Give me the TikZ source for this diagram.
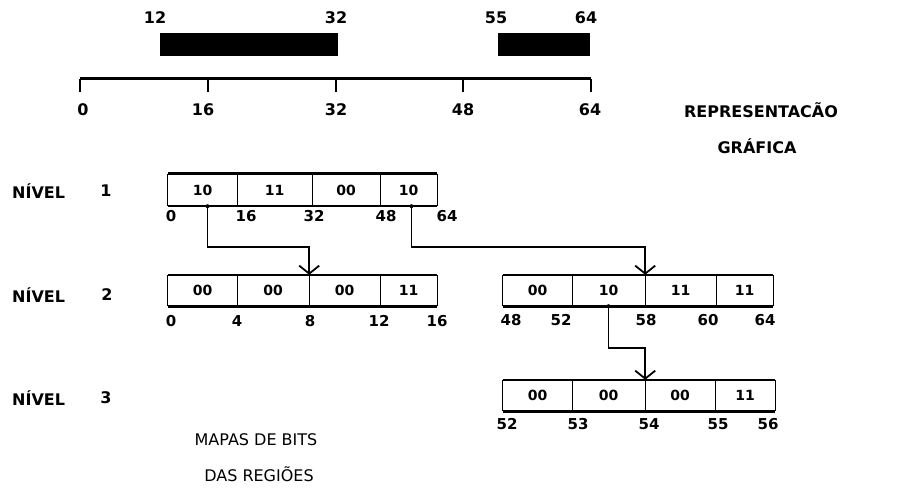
\documentclass[tikz,border=0pt]{standalone}
\usepackage{fontspec}
\setmainfont{DejaVu Sans}
\usetikzlibrary{arrows.meta}
\begin{document}
\begin{tikzpicture}[x=1pt,y=-1pt,
  lbl/.style={font=\bfseries\fontsize{16}{16}\selectfont, inner sep=0pt},
  capt/.style={font=\fontsize{16}{16}\selectfont, inner sep=0pt},
  num/.style={font=\bfseries\fontsize{15}{15}\selectfont, inner sep=0pt},
  cell/.style={font=\bfseries\fontsize{14}{14}\selectfont, inner sep=0pt},
  boxline/.style={line width=2.6pt},
  divline/.style={line width=1.2pt},
  axisline/.style={line width=3pt},
  tickline/.style={line width=1.4pt},
  conn/.style={line width=1.8pt},
  arr/.style={-{Straight Barb[length=8pt,width=20pt,line width=1.8pt]}},
  bar/.style={fill=black},
  startdot/.style={fill=black, circle, inner sep=0pt, minimum size=4pt}
]
\useasboundingbox (0,0) rectangle (897,489);

% ---------- graphical representation ----------
\node[lbl] (t12) at (155,18) {12};
\node[lbl] (t32) at (336,18) {32};
\node[lbl] (t55) at (496,18) {55};
\node[lbl] (t64) at (586,18) {64};
\fill[bar] (160,33) rectangle (338,56);
\fill[bar] (498,33) rectangle (590,56);

\coordinate (a0)  at (80,79);
\coordinate (a16) at (208,79);
\coordinate (a32) at (336,79);
\coordinate (a48) at (463,79);
\coordinate (a64) at (591,79);
\draw[axisline] (a0) -- (a64);
\foreach \p in {a0,a16,a32,a48,a64} \draw[tickline] (\p) -- ++(0,13);
\node[lbl] (x0)  at (83,110)  {0};
\node[lbl] (x16) at (203,110) {16};
\node[lbl] (x32) at (336,110) {32};
\node[lbl] (x48) at (463,110) {48};
\node[lbl] (x64) at (590,110) {64};

\node[lbl] (rep) at (761,110) {REPRESENTACÃO};
\node[lbl] (gra) at (757,146) {GRÁFICA};

% ---------- level labels ----------
\node[lbl, anchor=west] (n1) at (12,191) {NÍVEL};
\node[lbl] (n1v) at (106,191) {1};
\node[lbl, anchor=west] (n2) at (12,295) {NÍVEL};
\node[lbl] (n2v) at (107,295) {2};
\node[lbl, anchor=west] (n3) at (12,398) {NÍVEL};
\node[lbl] (n3v) at (106,398) {3};

% ---------- level 1 ----------
\node[cell, minimum width=69pt, minimum height=32pt] (l1a) at (202.5,190) {10};
\node[cell, minimum width=75pt, minimum height=32pt] (l1b) at (274.5,190) {11};
\node[cell, minimum width=68pt, minimum height=32pt] (l1c) at (346,190) {00};
\node[cell, minimum width=57pt, minimum height=32pt] (l1d) at (408.5,190) {10};
\draw[boxline] (l1a.north west) -- (l1d.north east);
\draw[boxline] (l1a.south west) -- (l1d.south east);
\draw[divline] (l1a.north west) -- (l1a.south west);
\draw[divline] (l1a.north east) -- (l1a.south east);
\draw[divline] (l1b.north east) -- (l1b.south east);
\draw[divline] (l1c.north east) -- (l1c.south east);
\draw[divline] (l1d.north east) -- (l1d.south east);
\node[num] (u1a) at (171,216) {0};
\node[num] (u1b) at (246,216) {16};
\node[num] (u1c) at (314,216) {32};
\node[num] (u1d) at (386,216) {48};
\node[num] (u1e) at (447,216) {64};

% ---------- level 2 left ----------
\node[cell, minimum width=69pt, minimum height=31pt] (l2a) at (202.5,290.5) {00};
\node[cell, minimum width=72pt, minimum height=31pt] (l2b) at (273,290.5) {00};
\node[cell, minimum width=71pt, minimum height=31pt] (l2c) at (344.5,290.5) {00};
\node[cell, minimum width=57pt, minimum height=31pt] (l2d) at (408.5,290.5) {11};
\draw[boxline] (l2a.north west) -- (l2d.north east);
\draw[boxline] (l2a.south west) -- (l2d.south east);
\draw[divline] (l2a.north west) -- (l2a.south west);
\draw[divline] (l2a.north east) -- (l2a.south east);
\draw[divline] (l2b.north east) -- (l2b.south east);
\draw[divline] (l2c.north east) -- (l2c.south east);
\draw[divline] (l2d.north east) -- (l2d.south east);
\node[num] (u2a) at (171,321) {0};
\node[num] (u2b) at (237,321) {4};
\node[num] (u2c) at (310,321) {8};
\node[num] (u2d) at (379,321) {12};
\node[num] (u2e) at (437,321) {16};

% ---------- level 2 right ----------
\node[cell, minimum width=69pt, minimum height=31pt] (l2e) at (537.5,290.5) {00};
\node[cell, minimum width=73pt, minimum height=31pt] (l2f) at (608.5,290.5) {10};
\node[cell, minimum width=71pt, minimum height=31pt] (l2g) at (680.5,290.5) {11};
\node[cell, minimum width=57pt, minimum height=31pt] (l2h) at (744.5,290.5) {11};
\draw[boxline] (l2e.north west) -- (l2h.north east);
\draw[boxline] (l2e.south west) -- (l2h.south east);
\draw[divline] (l2e.north west) -- (l2e.south west);
\draw[divline] (l2e.north east) -- (l2e.south east);
\draw[divline] (l2f.north east) -- (l2f.south east);
\draw[divline] (l2g.north east) -- (l2g.south east);
\draw[divline] (l2h.north east) -- (l2h.south east);
\node[num] (u2f) at (511,320) {48};
\node[num] (u2g) at (561,320) {52};
\node[num] (u2h) at (646,320) {58};
\node[num] (u2i) at (708,320) {60};
\node[num] (u2j) at (765,320) {64};

% ---------- level 3 ----------
\node[cell, minimum width=69pt, minimum height=31pt] (l3a) at (537.5,395.5) {00};
\node[cell, minimum width=73pt, minimum height=31pt] (l3b) at (608.5,395.5) {00};
\node[cell, minimum width=70pt, minimum height=31pt] (l3c) at (680,395.5) {00};
\node[cell, minimum width=60pt, minimum height=31pt] (l3d) at (745,395.5) {11};
\draw[boxline] (l3a.north west) -- (l3d.north east);
\draw[boxline] (l3a.south west) -- (l3d.south east);
\draw[divline] (l3a.north west) -- (l3a.south west);
\draw[divline] (l3a.north east) -- (l3a.south east);
\draw[divline] (l3b.north east) -- (l3b.south east);
\draw[divline] (l3c.north east) -- (l3c.south east);
\draw[divline] (l3d.north east) -- (l3d.south east);
\node[num] (u3a) at (507,424) {52};
\node[num] (u3b) at (578,424) {53};
\node[num] (u3c) at (649,424) {54};
\node[num] (u3d) at (718,424) {55};
\node[num] (u3e) at (768,424) {56};

% ---------- connectors ----------
\coordinate (j1) at (0,247);
\coordinate (j2) at (0,348);
\node[startdot] (s1) at ([xshift=5pt]l1a.south) {};
\node[startdot] (s2) at ([xshift=3pt]l1d.south) {};
\node[startdot] (s3) at (l2f.south) {};
\draw[conn, arr] (s1.center) |- (l2b.north east |- j1) -- (l2b.north east);
\draw[conn, arr] (s2.center) |- (l2f.north east |- j1) -- (l2f.north east);
\draw[conn, arr] (s3.center) |- (l3b.north east |- j2) -- (l3b.north east);

% ---------- caption ----------
\node[capt] (map) at (256,440) {MAPAS DE BITS};
\node[capt] (reg) at (259,474) {DAS REGIÕES};
\end{tikzpicture}
\end{document}
